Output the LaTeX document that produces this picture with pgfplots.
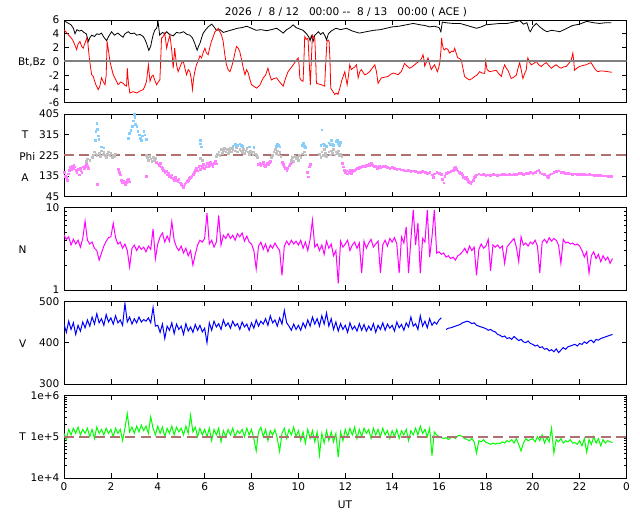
\documentclass[border=0pt]{standalone}
\usepackage{fontspec}
\setmainfont{DejaVu Sans}
\usepackage{pgfplots}
\pgfplotsset{compat=1.18}
\usepackage{pgfplotstable}
\definecolor{dashcol}{RGB}{176,112,112}
\definecolor{phipink}{RGB}{255,128,255}
\definecolor{phigray}{RGB}{192,192,192}
\definecolor{phiblue}{RGB}{135,206,250}
\definecolor{zerogray}{RGB}{128,128,128}
\definecolor{ngreen}{RGB}{0,255,0}
\definecolor{nmag}{RGB}{255,0,255}
\definecolor{vblue}{RGB}{0,0,255}
\definecolor{bzred}{RGB}{255,0,0}

\pgfplotstableread[row sep=\\]{
y\\
4.6\\4.1\\4.4\\3.5\\4.1\\3.6\\4.0\\3.3\\4.2\\6.8\\
4.0\\3.6\\3.8\\3.2\\3.0\\2.3\\2.8\\3.4\\3.9\\4.3\\
4.4\\6.4\\4.3\\3.6\\3.8\\3.2\\3.6\\3.0\\1.9\\3.2\\
3.5\\3.0\\3.4\\3.1\\3.3\\2.9\\3.4\\3.1\\5.5\\2.4\\
3.6\\4.4\\4.9\\3.8\\4.5\\3.9\\6.7\\4.0\\3.3\\3.0\\
3.4\\2.8\\3.2\\2.6\\3.0\\2.0\\2.7\\3.5\\4.0\\3.8\\
4.2\\8.5\\3.6\\4.0\\3.3\\3.8\\8.0\\3.5\\4.6\\4.2\\
4.8\\4.2\\4.6\\4.0\\4.8\\4.4\\4.9\\3.9\\4.5\\3.8\\
3.6\\3.0\\1.8\\3.4\\3.8\\3.1\\3.6\\2.9\\3.5\\3.2\\
3.7\\3.3\\3.0\\1.5\\3.4\\3.9\\3.5\\4.0\\3.6\\3.9\\
3.5\\4.0\\3.2\\3.8\\3.0\\4.1\\7.0\\3.3\\3.6\\3.0\\
3.5\\2.7\\3.9\\3.2\\3.6\\2.6\\3.0\\1.2\\3.9\\3.3\\
3.6\\4.0\\3.0\\3.5\\3.8\\3.2\\3.7\\1.6\\3.9\\3.2\\
3.7\\4.1\\3.3\\3.6\\3.9\\1.6\\3.5\\4.0\\3.4\\4.2\\
3.8\\4.3\\3.6\\1.6\\4.4\\3.7\\5.8\\1.6\\4.1\\9.3\\
3.5\\6.5\\1.6\\4.2\\3.8\\9.3\\2.5\\4.4\\9.3\\2.8\\
2.9\\2.7\\2.8\\2.5\\2.6\\2.4\\2.5\\2.3\\2.6\\2.7\\
2.9\\3.2\\2.8\\3.4\\3.0\\3.3\\1.5\\3.1\\3.6\\3.2\\
3.4\\4.1\\1.7\\3.5\\3.3\\3.5\\3.2\\3.4\\2.1\\3.3\\
3.6\\3.9\\4.2\\3.3\\2.2\\4.4\\3.5\\3.7\\3.4\\3.8\\
3.6\\4.0\\3.4\\1.6\\3.8\\4.1\\3.7\\4.3\\3.9\\4.2\\
4.0\\3.5\\2.1\\4.1\\3.7\\3.8\\3.6\\3.7\\3.5\\3.6\\
3.4\\3.0\\2.5\\2.9\\1.6\\2.6\\2.9\\2.4\\2.7\\2.2\\
2.6\\2.3\\2.5\\2.1\\2.4\\
}\Ntab

\pgfplotstableread[row sep=\\]{
y\\
445\\425\\452\\432\\448\\420\\442\\428\\450\\436\\
455\\440\\462\\445\\470\\448\\458\\442\\468\\450\\
460\\445\\465\\448\\455\\442\\495\\450\\462\\445\\
458\\448\\462\\450\\456\\452\\460\\448\\485\\440\\
442\\425\\445\\410\\440\\430\\448\\422\\445\\432\\
440\\420\\446\\428\\438\\425\\444\\430\\442\\426\\
435\\400\\448\\430\\452\\438\\446\\432\\455\\440\\
448\\435\\452\\440\\446\\432\\450\\438\\445\\430\\
448\\435\\455\\440\\452\\445\\458\\442\\465\\448\\
455\\440\\460\\445\\478\\448\\440\\430\\445\\432\\
442\\430\\448\\436\\455\\440\\462\\445\\458\\440\\
465\\445\\472\\440\\458\\432\\450\\428\\446\\432\\
442\\425\\448\\432\\440\\428\\446\\430\\444\\428\\
440\\430\\446\\425\\442\\432\\448\\430\\445\\435\\
442\\428\\450\\436\\444\\430\\448\\438\\462\\440\\
446\\432\\465\\440\\452\\436\\458\\442\\450\\445\\
455\\460\\nan\\432\\435\\436\\438\\440\\442\\444\\
448\\450\\452\\450\\446\\448\\442\\440\\438\\436\\
434\\430\\432\\428\\426\\420\\418\\414\\416\\410\\
412\\408\\415\\410\\405\\408\\402\\400\\404\\398\\
396\\392\\394\\388\\390\\384\\386\\380\\383\\378\\
385\\376\\382\\388\\384\\390\\392\\394\\396\\392\\
398\\396\\402\\398\\404\\406\\400\\408\\406\\410\\
412\\414\\416\\418\\420\\
}\Vtab

\pgfplotstableread[row sep=\\]{
y\\
1.2e5\\0.85e5\\1.5e5\\1.1e5\\1.6e5\\1.2e5\\1.7e5\\1.1e5\\1.5e5\\1.2e5\\
1.6e5\\1.0e5\\1.5e5\\0.9e5\\1.7e5\\1.2e5\\1.5e5\\1.1e5\\1.6e5\\1.2e5\\
1.5e5\\1.0e5\\1.6e5\\1.2e5\\1.5e5\\0.8e5\\1.6e5\\3.6e5\\1.3e5\\1.7e5\\
1.2e5\\1.8e5\\1.3e5\\1.9e5\\1.4e5\\1.8e5\\1.2e5\\3.0e5\\1.6e5\\1.1e5\\
1.8e5\\1.2e5\\1.7e5\\1.0e5\\1.6e5\\1.2e5\\1.8e5\\1.1e5\\1.7e5\\1.3e5\\
1.6e5\\1.1e5\\1.8e5\\1.2e5\\3.3e5\\1.3e5\\1.7e5\\1.0e5\\1.6e5\\1.1e5\\
1.5e5\\1.0e5\\1.6e5\\0.8e5\\1.5e5\\1.1e5\\1.6e5\\0.75e5\\1.4e5\\1.0e5\\
1.5e5\\1.1e5\\1.6e5\\1.0e5\\1.4e5\\1.2e5\\1.5e5\\1.0e5\\1.6e5\\1.1e5\\
1.5e5\\0.9e5\\0.45e5\\1.3e5\\1.7e5\\1.0e5\\1.5e5\\0.8e5\\1.4e5\\1.1e5\\
1.5e5\\0.9e5\\0.44e5\\1.2e5\\1.6e5\\0.9e5\\1.5e5\\1.1e5\\1.7e5\\1.0e5\\
1.4e5\\0.8e5\\1.3e5\\0.7e5\\1.5e5\\0.9e5\\1.4e5\\0.75e5\\1.3e5\\0.36e5\\
1.2e5\\0.7e5\\1.4e5\\0.8e5\\1.3e5\\0.75e5\\1.2e5\\0.32e5\\1.3e5\\0.8e5\\
1.5e5\\1.0e5\\1.6e5\\1.1e5\\1.7e5\\0.9e5\\1.5e5\\1.0e5\\1.6e5\\1.2e5\\
1.5e5\\0.9e5\\1.6e5\\1.1e5\\1.5e5\\1.0e5\\1.6e5\\1.1e5\\1.4e5\\0.9e5\\
1.4e5\\1.0e5\\1.5e5\\0.9e5\\1.4e5\\1.1e5\\1.5e5\\0.8e5\\1.4e5\\1.1e5\\
1.6e5\\1.1e5\\1.8e5\\1.2e5\\1.5e5\\1.0e5\\1.6e5\\0.35e5\\1.3e5\\1.1e5\\
1.0e5\\0.95e5\\0.9e5\\0.95e5\\0.85e5\\0.95e5\\1.0e5\\0.9e5\\1.05e5\\1.08e5\\
1.0e5\\0.9e5\\0.85e5\\0.8e5\\0.9e5\\0.75e5\\0.4e5\\0.8e5\\0.75e5\\0.85e5\\
0.72e5\\0.7e5\\0.65e5\\0.7e5\\0.66e5\\0.7e5\\0.68e5\\0.75e5\\0.7e5\\0.8e5\\
0.75e5\\0.85e5\\0.7e5\\0.9e5\\0.65e5\\0.45e5\\0.7e5\\0.9e5\\0.8e5\\0.85e5\\
0.9e5\\0.75e5\\1.0e5\\0.8e5\\1.1e5\\0.7e5\\0.95e5\\0.75e5\\1.6e5\\0.4e5\\
0.85e5\\0.75e5\\0.9e5\\0.7e5\\0.8e5\\0.75e5\\0.85e5\\0.7e5\\0.72e5\\0.65e5\\
0.8e5\\0.6e5\\0.9e5\\0.42e5\\0.85e5\\0.65e5\\1.0e5\\0.7e5\\0.9e5\\0.6e5\\
0.85e5\\0.7e5\\0.8e5\\0.75e5\\0.72e5\\
}\Ttab

\pgfplotsset{
  panel/.style={
    scale only axis, width=421.9pt, height=62pt, anchor=south west,
    xmin=0, xmax=24, xtick={0,2,...,24}, xticklabels={},
    tick align=inside, tick pos=both,
    major tick length=3.5pt, minor tick length=2pt,
    every tick/.style={black, line width=0.5pt},
    axis line style={black, line width=0.6pt},
    tick label style={font=\fontsize{7.9}{9}\selectfont, text=black},
    unbounded coords=jump, clip=true,
  }
}

\begin{document}
\begin{tikzpicture}[x=1pt,y=1pt]
\useasboundingbox (0,0) rectangle (480,384);
\fill[white] (0,0) rectangle (480,384);
\tikzset{lbl/.style={font=\fontsize{7.9}{9}\selectfont, inner sep=0pt}}

% ---------- Panel 1: Bt, Bz ----------
\begin{axis}[panel, at={(48pt,307pt)}, ymin=-6, ymax=6, ytick={-6,-4,...,6},
  yticklabels={-6,-4,-2,0,2,4,6}]
\addplot[black, line width=0.6pt] coordinates {
(0,5.9) (0.1,5.7) (0.2,5.5) (0.3,5.3) (0.4,4.8) (0.47,4.0) (0.55,4.6) (0.65,4.4) (0.75,4.5) (0.85,4.2) (0.95,4.0) (1.04,2.9) (1.1,3.4) (1.18,3.8) (1.3,3.6) (1.4,4.0) (1.5,3.9) (1.6,4.1) (1.7,3.5) (1.82,3.0) (1.9,3.6) (2.03,4.3) (2.15,3.8) (2.3,4.1) (2.4,3.8) (2.52,3.5) (2.6,4.0) (2.74,4.3) (2.85,4.0) (3.0,4.1) (3.1,3.8) (3.25,3.9) (3.38,3.6) (3.45,3.2) (3.52,2.6) (3.62,1.6) (3.7,2.2) (3.74,2.9) (3.8,3.8) (3.87,4.5) (3.95,4.8) (4.02,5.6) (4.08,3.8) (4.2,4.2) (4.3,4.0) (4.38,4.3) (4.5,3.9) (4.66,3.7) (4.8,4.2) (4.94,4.1) (5.1,4.3) (5.25,3.9) (5.37,3.8) (5.48,3.4) (5.58,2.6) (5.68,1.6) (5.74,2.2) (5.8,2.6) (5.87,3.4) (5.94,4.1) (6.05,4.6) (6.15,5.0) (6.3,5.4) (6.4,5.0) (6.5,4.5) (6.65,4.6) (6.8,4.2) (7.0,4.4) (7.2,4.6) (7.4,4.8) (7.6,4.9) (7.8,5.1) (8.0,4.8) (8.2,4.5) (8.4,4.6) (8.65,4.45) (8.85,4.6) (9.07,4.8) (9.2,4.5) (9.35,4.1) (9.5,4.6) (9.65,4.9) (9.78,5.3) (9.9,4.9) (10.05,4.7) (10.2,4.5) (10.35,4.0) (10.45,3.5) (10.5,3.0) (10.55,3.7) (10.63,2.9) (10.7,3.8) (10.77,4.0) (10.85,4.3) (10.95,3.9) (11.05,4.2) (11.15,3.6) (11.2,3.1) (11.28,4.0) (11.4,4.4) (11.6,4.8) (11.8,4.6) (12.05,4.8) (12.3,4.4) (12.6,4.1) (12.9,4.3) (13.2,4.5) (13.5,4.6) (13.75,4.8) (14.0,5.0) (14.3,5.1) (14.6,5.3) (14.9,5.5) (15.2,5.3) (15.4,5.2) (15.6,5.0) (15.8,5.1) (16.0,4.9) (16.08,4.3) (16.14,5.7) (16.3,5.6) (16.6,5.5) (16.9,5.5) (17.2,5.2) (17.4,5.0) (17.6,4.8) (17.8,5.0) (18.0,5.3) (18.3,5.4) (18.6,5.5) (18.9,5.5) (19.2,5.7) (19.45,5.9) (19.6,5.4) (19.75,5.6) (19.85,4.5) (19.9,4.3) (20.0,5.0) (20.15,5.5) (20.3,5.0) (20.45,4.6) (20.6,4.3) (20.8,4.5) (21.0,4.4) (21.15,4.3) (21.4,4.7) (21.7,5.2) (22.0,5.4) (22.3,5.8) (22.6,5.6) (22.85,5.5) (23.1,5.6) (23.35,5.6)
};
\addplot[bzred, line width=0.6pt] coordinates {
(0,4.55) (0.1,4.2) (0.2,3.8) (0.26,3.6) (0.33,3.3) (0.4,2.9) (0.47,2.3) (0.54,1.7) (0.6,2.5) (0.68,2.9) (0.75,2.2) (0.82,1.9) (0.9,2.7) (0.97,3.35) (1.02,2.6) (1.08,0.5) (1.13,-0.8) (1.18,-1.95) (1.25,-2.2) (1.3,-2.8) (1.36,-3.4) (1.46,-4.1) (1.53,-3.6) (1.6,-2.4) (1.68,-3.0) (1.75,-3.4) (1.8,-2.0) (1.84,2.9) (1.9,1.5) (1.96,0) (2.03,-1.0) (2.1,-1.95) (2.2,-2.6) (2.31,-3.4) (2.42,-3.0) (2.53,-3.2) (2.6,-3.5) (2.67,-3.6) (2.7,-1.0) (2.75,-3.2) (2.81,-4.6) (2.95,-4.4) (3.1,-4.6) (3.25,-4.3) (3.38,-4.1) (3.45,-3.6) (3.52,-2.9) (3.6,-0.5) (3.67,-2.9) (3.74,-2.2) (3.8,-2.0) (3.88,-2.8) (3.95,-3.4) (4.02,-3.0) (4.09,-2.7) (4.13,0.5) (4.16,3.35) (4.23,3.6) (4.3,4.1) (4.38,1.9) (4.45,3.0) (4.52,3.8) (4.6,1.5) (4.66,-1.0) (4.72,1.9) (4.8,-0.5) (4.87,-1.5) (4.95,-0.8) (5.02,-0.2) (5.09,0) (5.16,-1.0) (5.23,-1.95) (5.3,-1.2) (5.37,-1.5) (5.43,-2.5) (5.48,-4.1) (5.53,-2.5) (5.58,-1.5) (5.65,-0.5) (5.72,0) (5.8,0.8) (5.87,0.5) (5.94,1.3) (6.01,1.9) (6.08,1.2) (6.15,0.95) (6.22,2.0) (6.29,2.9) (6.36,3.5) (6.44,4.3) (6.51,4.5) (6.58,4.8) (6.65,4.3) (6.72,3.8) (6.79,2.9) (6.86,1.0) (6.93,-0.5) (7.0,-1.2) (7.08,-1.5) (7.15,-0.8) (7.22,0) (7.29,1.2) (7.36,2.15) (7.43,1.9) (7.5,1.4) (7.56,0.5) (7.62,-0.5) (7.68,-1.4) (7.72,-1.95) (7.79,-1.2) (7.86,-1.7) (7.93,-2.6) (8.0,-3.4) (8.1,-3.6) (8.21,-3.9) (8.35,-3.5) (8.5,-2.4) (8.6,-2.0) (8.7,-1.0) (8.78,-2.0) (8.85,-2.7) (8.95,-2.5) (9.07,-2.4) (9.2,-3.0) (9.35,-3.6) (9.45,-2.5) (9.56,-1.5) (9.67,-1.0) (9.78,-0.5) (9.88,0) (9.99,0.5) (10.03,-0.5) (10.06,-2.4) (10.13,-2.8) (10.2,-2.9) (10.24,0.5) (10.27,3.6) (10.34,3.2) (10.41,3.35) (10.46,0) (10.51,-3.4) (10.55,0) (10.6,3.8) (10.65,3.5) (10.7,3.35) (10.74,0) (10.77,-3.2) (10.88,-3.3) (10.98,-3.4) (11.05,-3.5) (11.12,-3.6) (11.17,0) (11.22,2.9) (11.27,3.1) (11.31,2.9) (11.35,0) (11.38,-3.9) (11.46,-4.3) (11.55,-4.8) (11.62,-4.6) (11.69,-4.8) (11.76,-4.0) (11.84,-2.9) (11.91,-2.2) (11.98,-1.5) (12.03,-2.5) (12.08,-3.4) (12.14,-2.0) (12.19,-0.5) (12.26,-1.2) (12.33,-1.0) (12.41,-0.8) (12.48,-0.5) (12.55,-2.4) (12.62,-1.5) (12.69,-1.2) (12.76,-1.6) (12.83,-1.95) (12.93,-1.8) (13.04,-1.5) (13.15,-1.0) (13.26,-0.5) (13.33,-1.5) (13.4,-3.2) (13.47,-2.8) (13.54,-2.4) (13.68,-2.3) (13.82,-2.2) (13.93,-1.9) (14.04,-1.7) (14.15,-1.8) (14.25,-1.95) (14.32,-1.7) (14.39,-1.5) (14.46,-0.9) (14.53,-0.3) (14.64,-0.7) (14.75,-1.0) (14.85,-0.8) (14.96,-0.5) (15.06,-0.2) (15.17,0) (15.25,0.4) (15.32,0.95) (15.36,0.2) (15.39,-0.7) (15.46,-0.1) (15.53,0.5) (15.6,-0.4) (15.67,-1.2) (15.74,-0.8) (15.81,-0.5) (15.87,-1.0) (15.93,-1.5) (15.98,-1.0) (16.03,-0.3) (16.08,1.5) (16.11,3.35) (16.14,2.5) (16.19,1.8) (16.24,1.65) (16.3,1.9) (16.38,1.7) (16.45,1.2) (16.55,1.5) (16.62,1.4) (16.67,1.9) (16.73,1.2) (16.8,0.5) (16.88,0.4) (16.95,0.2) (17.02,-1.0) (17.09,-2.2) (17.2,-2.5) (17.3,-2.7) (17.41,-2.5) (17.52,-2.2) (17.62,-2.0) (17.73,-1.5) (17.84,-1.7) (17.95,-1.75) (17.99,0) (18.05,-1.2) (18.16,-1.5) (18.3,-1.4) (18.44,-1.3) (18.55,-1.8) (18.66,-2.2) (18.73,-1.2) (18.8,-0.5) (18.87,-1.0) (18.94,-1.3) (19.01,-1.9) (19.08,-2.5) (19.19,-2.3) (19.3,-2.0) (19.37,-1.0) (19.44,-0.2) (19.51,-1.3) (19.58,-2.5) (19.65,-1.8) (19.72,-1.3) (19.76,0) (19.79,0.5) (19.87,-0.2) (19.94,-0.5) (20.05,-0.3) (20.15,0) (20.25,-0.5) (20.36,-0.75) (20.47,-0.4) (20.58,-0.2) (20.68,-0.6) (20.79,-1.0) (20.9,-0.7) (21.0,-0.5) (21.1,-0.8) (21.21,-1.0) (21.32,-0.8) (21.43,-0.75) (21.54,-0.3) (21.64,0.2) (21.71,1.2) (21.75,0) (21.78,-1.3) (21.88,-1.0) (21.99,-0.75) (22.14,-0.6) (22.28,-0.5) (22.4,-0.3) (22.49,-0.2) (22.56,-0.6) (22.63,-1.0) (22.7,-1.3) (22.78,-1.5) (22.88,-1.4) (22.99,-1.4) (23.1,-1.45) (23.2,-1.5) (23.3,-1.55) (23.37,-1.6)
};
\addplot[zerogray, line width=1.5pt] coordinates {(0,0) (24,0)};
\end{axis}

% ---------- Panel 2: Phi ----------
\begin{axis}[panel, at={(48pt,236.5pt)}, ymin=45, ymax=405,
  ytick={45,135,225,315,405}, yticklabels={45,135,225,315,405}]
\addplot[phipink, only marks, mark=square*, mark size=0.65pt] coordinates {
(0.02,150)(0.06,135)(0.1,128)(0.14,115)(0.18,145)(0.22,160)(0.26,172)(0.3,165)(0.34,178)(0.38,170)(0.42,182)(0.46,175)(0.5,160)(0.55,150)(0.6,165)(0.64,140)(0.68,170)(0.72,158)(0.76,150)(0.8,175)(0.85,168)(0.9,180)(0.95,185)(1.0,178)(1.05,170)(1.42,98)
(2.3,165)(2.35,150)(2.4,140)(2.45,118)(2.5,105)(2.55,112)(2.6,100)(2.65,108)(2.7,115)(2.75,120)(2.8,110)
(3.52,133)(3.95,195)(4.0,188)(4.05,182)(4.1,190)(4.15,175)(4.2,168)(4.25,160)(4.3,150)(4.35,155)(4.4,140)(4.45,148)(4.5,135)(4.55,130)(4.6,140)(4.65,125)(4.7,118)(4.75,128)(4.8,115)(4.85,110)(4.9,120)(4.95,105)(5.0,100)(5.05,92)(5.1,85)(5.15,98)(5.2,105)(5.25,112)(5.3,118)(5.35,125)(5.4,130)(5.45,135)(5.5,142)(5.55,150)(5.6,160)(5.65,170)(5.7,158)(5.75,178)(5.8,165)(5.85,180)(5.9,172)(5.95,185)(6.0,168)(6.05,178)(6.1,190)(6.15,175)(6.2,182)(6.25,195)(6.3,185)(6.35,178)(6.4,192)(6.45,198)(6.5,188)
(8.3,185)(8.35,192)(8.4,180)(8.45,188)(8.5,195)(8.55,183)(8.6,178)(8.65,190)(8.7,186)(8.75,194)(8.8,198)
(9.3,195)(9.35,185)(9.4,175)(9.45,168)(9.5,160)(9.55,170)(9.6,180)(9.65,188)(9.7,196)
(10.38,150)(10.42,132)(10.45,175)(10.5,185)
(11.88,192)(11.92,175)(11.96,160)(12.0,150)(12.05,158)(12.1,145)(12.15,152)(12.2,160)(12.25,148)(12.3,155)(12.35,162)(12.4,158)(12.45,165)(12.5,170)(12.55,168)(12.6,175)(12.65,172)(12.7,178)(12.75,176)(12.8,180)(12.85,178)(12.9,184)(12.95,182)(13.0,186)(13.05,180)(13.1,190)(13.15,184)(13.2,180)(13.25,176)(13.3,178)(13.35,170)(13.4,175)(13.45,178)(13.5,172)(13.6,176)(13.7,178)(13.8,174)(13.9,170)(14.0,172)(14.1,168)(14.2,165)(14.3,166)(14.4,162)(14.5,160)(14.6,158)(14.7,160)(14.8,156)(14.9,158)(15.0,155)(15.1,152)(15.2,150)(15.3,155)(15.4,150)(15.5,148)(15.6,152)(15.7,140)(15.75,130)(15.8,145)(15.9,150)(16.0,148)(16.1,142)(16.15,120)(16.2,105)(16.25,135)(16.3,148)(16.4,152)(16.5,156)(16.6,160)(16.65,168)(16.7,172)(16.75,165)(16.8,158)(16.85,150)(16.9,145)(16.95,148)(17.0,140)(17.05,130)(17.1,125)(17.15,132)(17.2,120)(17.25,112)(17.3,108)(17.35,104)(17.4,110)(17.45,118)(17.5,128)(17.55,135)(17.6,140)(17.7,145)(17.8,140)(17.9,142)(18.0,138)(18.1,140)(18.2,139)(18.3,141)(18.4,140)(18.5,139)(18.6,140)(18.7,141)(18.8,142)(18.9,140)(19.0,141)(19.1,140)(19.2,142)(19.3,144)(19.4,148)(19.5,146)(19.6,143)(19.7,148)(19.8,146)(19.9,150)(20.0,147)(20.1,152)(20.2,158)(20.25,162)(20.3,150)(20.4,145)(20.5,142)(20.6,135)(20.65,128)(20.7,140)(20.8,145)(20.9,150)(21.0,156)(21.1,158)(21.2,152)(21.3,150)(21.4,148)(21.5,146)(21.6,145)(21.7,144)(21.8,145)(21.9,143)(22.0,142)(22.1,141)(22.2,142)(22.3,140)(22.4,141)(22.5,140)(22.6,139)(22.7,138)(22.8,137)(22.9,138)(23.0,136)(23.1,136)(23.2,135)(23.3,134)(23.37,133)
};
\addplot[phigray, only marks, mark=square*, mark size=0.65pt] coordinates {
(0.95,200)(1.0,210)(1.1,205)(1.2,215)(1.25,228)(1.3,240)(1.35,232)(1.4,225)(1.5,235)(1.55,220)(1.6,245)(1.65,230)(1.7,238)(1.75,225)(1.8,215)(1.85,230)(1.9,240)(1.95,225)(2.0,235)(2.05,218)(2.1,228)(2.15,220)(2.2,232)
(3.5,225)(3.55,215)(3.6,205)(3.65,220)(3.7,210)(3.75,200)(3.8,215)(3.85,205)(3.9,212)
(5.8,212)(5.9,205)(6.5,220)(6.55,230)(6.6,240)(6.65,225)(6.7,250)(6.75,235)(6.8,245)(6.85,255)(6.9,240)(6.95,250)(7.0,235)(7.05,245)(7.1,255)(7.15,240)(7.2,250)(7.3,245)(7.35,260)(7.4,240)(7.5,252)(7.55,245)(7.6,238)(7.65,250)(7.7,235)(7.75,245)(7.8,255)(7.85,240)(7.9,230)(7.95,245)(8.0,238)(8.05,228)(8.1,240)(8.15,232)(8.2,225)(8.25,215)
(8.85,215)(8.9,225)(8.95,240)(9.0,250)(9.05,235)(9.1,245)(9.15,228)(9.2,238)(9.25,220)
(9.7,205)(9.75,215)(9.8,200)(9.85,222)(9.9,210)(9.95,218)(10.0,205)(10.05,225)(10.1,215)(10.15,232)(10.25,240)(10.3,228)
(10.9,230)(10.95,215)(11.0,240)(11.05,225)(11.1,250)(11.15,235)(11.2,220)(11.3,240)(11.35,228)(11.4,245)(11.45,235)(11.5,250)(11.55,228)(11.6,240)(11.65,235)(11.7,245)(11.75,225)(11.8,232)(11.85,220)
};
\addplot[phiblue, only marks, mark=square*, mark size=0.65pt] coordinates {
(1.32,290)(1.36,330)(1.4,365)(1.42,340)(1.45,310)(1.48,295)(1.6,262)(1.7,258)
(2.75,300)(2.8,320)(2.85,335)(2.9,350)(2.95,375)(3.0,404)(3.02,390)(3.05,360)(3.1,350)(3.15,330)(3.2,315)(3.25,300)(3.3,290)(3.35,310)(3.4,330)(3.45,315)(3.5,295)
(5.8,290)(5.82,275)(5.85,262)
(7.2,265)(7.3,272)(7.4,268)(7.5,275)(7.55,270)(7.6,265)(7.9,262)(8.1,260)
(9.05,265)(9.1,275)(9.15,270)(9.2,262)
(10.15,270)(10.2,278)(10.25,265)(10.3,260)
(10.95,270)(11.0,336)(11.05,275)(11.1,268)(11.2,265)(11.3,280)(11.35,272)(11.4,290)(11.45,275)(11.5,268)(11.6,285)(11.65,292)(11.7,278)(11.75,270)(11.8,282)
};
\addplot[dashcol, line width=1.4pt, dash pattern=on 7.5pt off 4pt] coordinates {(0,225) (24,225)};
\end{axis}

% ---------- Panel 3: N ----------
\begin{axis}[panel, at={(48pt,166.5pt)}, ymode=log, ymin=1, ymax=10,
  ytick={1,10}, yticklabels={1,10}, minor ytick={2,3,4,5,6,7,8,9}]
\addplot[nmag, line width=0.75pt] table[x expr=\coordindex*0.1, y=y] {\Ntab};
\end{axis}

% ---------- Panel 4: V ----------
\begin{axis}[panel, at={(48pt,96pt)}, ymin=300, ymax=500,
  ytick={300,400,500}, yticklabels={300,400,500}]
\addplot[vblue, line width=0.75pt] table[x expr=\coordindex*0.1, y=y] {\Vtab};
\end{axis}

% ---------- Panel 5: T ----------
\begin{axis}[panel, at={(48pt,25.5pt)}, ymode=log, ymin=1e4, ymax=1e6,
  ytick={1e4,1e5,1e6}, yticklabels={1e+4,1e+5,1e+6},
  minor ytick={2e4,3e4,4e4,5e4,6e4,7e4,8e4,9e4,2e5,3e5,4e5,5e5,6e5,7e5,8e5,9e5},
  xticklabels={0,2,4,6,8,10,12,14,16,18,20,22,0}]
\addplot[ngreen, line width=0.75pt] table[x expr=\coordindex*0.1, y=y] {\Ttab};
\addplot[dashcol, line width=1.4pt, dash pattern=on 7.5pt off 4pt] coordinates {(0,1e5) (24,1e5)};
\end{axis}

% ---------- labels ----------
\node[lbl] at (259.5,375) {2026\ \ /\ \ 8 / 12\ \ \ 00:00 -{}- \ 8 / 13\ \ \ 00:00 ( ACE )};
\node[lbl] at (23.8,337.5) {Bt,Bz};
\node[lbl] at (18.75,282.75) {T};
\node[lbl] at (20.5,267) {Phi};
\node[lbl] at (18.75,250.5) {A};
\node[lbl] at (17,196.5) {N};
\node[lbl] at (17,126.5) {V};
\node[lbl] at (17,56.25) {T};
\node[lbl] at (258.75,5.25) {UT};
\end{tikzpicture}
\end{document}
